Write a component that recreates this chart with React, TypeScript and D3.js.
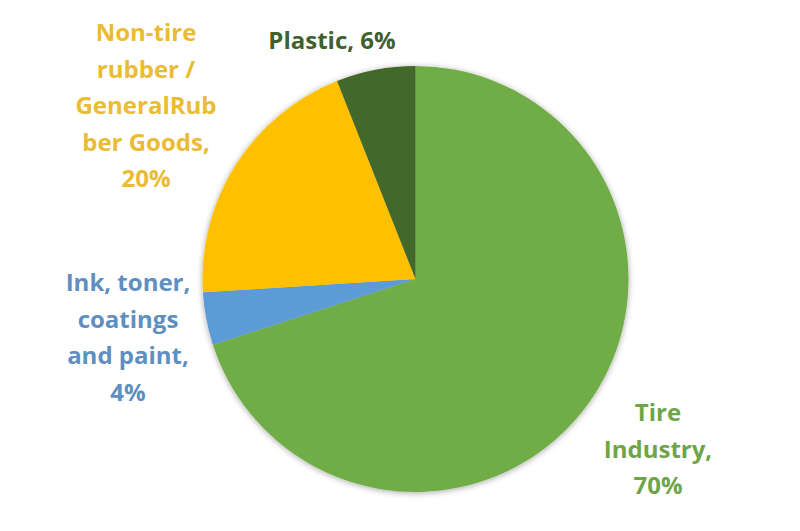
import React from "react";
import * as d3 from "d3";

const categories = ["Tire Industry", "Ink, toner, coatings and paint", "Non-tire rubber / GeneralRubber Goods", "Plastic"];
const values = [70, 4, 20, 6];
const sliceColors = ["#70AD47", "#5B9BD5", "#FFC000", "#43682B"];
const labelColors = ["#6FA548", "#5F8FC0", "#EBBB33", "#3F6130"];
const labelLines = [
  ["Tire", "Industry,", "70%"],
  ["Ink, toner,", "coatings", "and paint,", "4%"],
  ["Non-tire", "rubber /", "GeneralRub", "ber Goods,", "20%"],
  ["Plastic, 6%"],
];

const W = 800, H = 531;
const cx = 415.5, cy = 279, r = 213;
const labelPos = [
  { x: 658, y: 413 },
  { x: 128, y: 283 },
  { x: 146, y: 33 },
  { x: 332, y: 41 },
];
const lineH = 36.5;

export default function App() {
  const pie = d3.pie<number>().sort(null).value((d) => d)(values);
  const arc = d3.arc<d3.PieArcDatum<number>>().innerRadius(0).outerRadius(r);
  return (
    <svg width={W} height={H} style={{ position: "absolute", left: 0, top: 0, background: "#fff" }}>
      <defs>
        <filter id="sh" x="-20%" y="-20%" width="140%" height="140%">
          <feGaussianBlur in="SourceAlpha" stdDeviation="3" />
          <feOffset dx="0" dy="1" result="b" />
          <feComponentTransfer><feFuncA type="linear" slope="0.35" /></feComponentTransfer>
          <feMerge><feMergeNode /><feMergeNode in="SourceGraphic" /></feMerge>
        </filter>
      </defs>
      <g transform={`translate(${cx},${cy})`} filter="url(#sh)">
        {pie.map((p, i) => (
          <path key={categories[i]} d={arc(p) || ""} fill={sliceColors[i]} />
        ))}
      </g>
      {labelLines.map((lines, i) => (
        <text key={i} fontFamily="'Open Sans', sans-serif" fontWeight="bold" fontSize={24} fill={labelColors[i]} textAnchor="middle">
          {lines.map((l, j) => (
            <tspan key={j} x={labelPos[i].x} y={labelPos[i].y + j * lineH} dy="0.35em">{l}</tspan>
          ))}
        </text>
      ))}
    </svg>
  );
}
